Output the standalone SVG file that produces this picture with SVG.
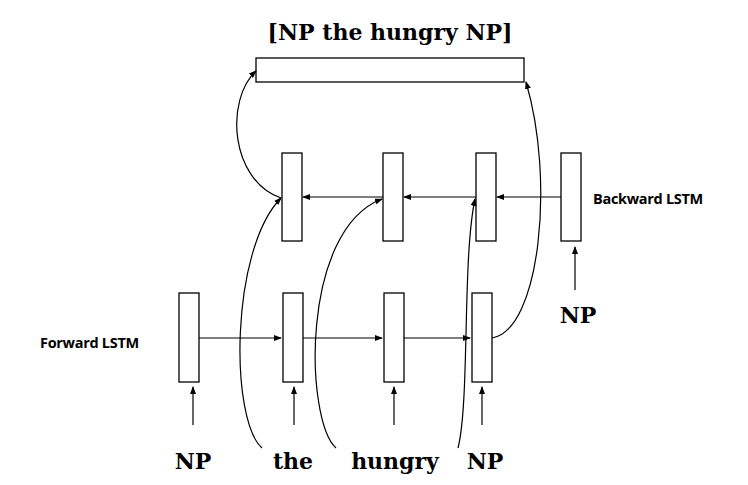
<svg xmlns="http://www.w3.org/2000/svg" width="748" height="485" viewBox="0 0 748 485">
<style>
.b{fill:#fff;stroke:#000;stroke-width:1.3}
.c{fill:none;stroke:#000;stroke-width:1.2}
.w{font-family:"DejaVu Serif",serif;font-weight:bold;font-size:22px;text-anchor:middle}
.s{font-family:"Open Sans","DejaVu Sans",sans-serif;font-weight:bold;font-size:14.5px;letter-spacing:-0.3px}
</style>
<defs><marker id="a" markerWidth="8" markerHeight="6" refX="7" refY="3" orient="auto" markerUnits="userSpaceOnUse"><path d="M0,0L8,3L0,6z"/></marker></defs>
<rect width="748" height="485" fill="#fff"/>
<g id="top"><rect class="b" x="256" y="58" width="268" height="24"/><text class="w" x="390" y="40" font-size="21">[NP the hungry NP]</text></g>
<g id="bw1"><rect class="b" x="282" y="153" width="20" height="88"/></g>
<g id="bw2"><rect class="b" x="383" y="153" width="20" height="88"/></g>
<g id="bw3"><rect class="b" x="476" y="153" width="20" height="88"/></g>
<g id="bw4"><rect class="b" x="561" y="153" width="20" height="88"/></g>
<g id="fw1"><rect class="b" x="179" y="293" width="20" height="89"/></g>
<g id="fw2"><rect class="b" x="283" y="293" width="20" height="89"/></g>
<g id="fw3"><rect class="b" x="384" y="293" width="20" height="89"/></g>
<g id="fw4"><rect class="b" x="472" y="293" width="20" height="89"/></g>
<g id="labels">
<text class="s" x="593" y="204">Backward LSTM</text>
<text class="s" x="40" y="348">Forward LSTM</text>
<text class="w" x="193" y="469">NP</text>
<text class="w" x="293" y="469">the</text>
<text class="w" x="395" y="469">hungry</text>
<text class="w" x="485" y="469">NP</text>
<text class="w" x="578" y="323">NP</text>
</g>
<g id="connectors" class="c">
<path d="M199,338H281" marker-end="url(#a)"/>
<path d="M303,338H382" marker-end="url(#a)"/>
<path d="M404,338H470" marker-end="url(#a)"/>
<path d="M561,197H497" marker-end="url(#a)"/>
<path d="M476,197H404" marker-end="url(#a)"/>
<path d="M383,197H303" marker-end="url(#a)"/>
<path d="M193,425V387" marker-end="url(#a)"/>
<path d="M294,425V387" marker-end="url(#a)"/>
<path d="M394,425V387" marker-end="url(#a)"/>
<path d="M482,425V387" marker-end="url(#a)"/>
<path d="M575,290V247" marker-end="url(#a)"/>
<path d="M262,448C230,420 230,250 281,198" marker-end="url(#a)"/>
<path d="M336,448C305,420 300,230 382,199" marker-end="url(#a)"/>
<path d="M458,448C470,400 462,260 475,199" marker-end="url(#a)"/>
<path d="M492,338C540,330 555,180 526,82" marker-end="url(#a)"/>
<path d="M281,198C230,180 225,100 256,71" marker-end="url(#a)"/>
</g>
</svg>
